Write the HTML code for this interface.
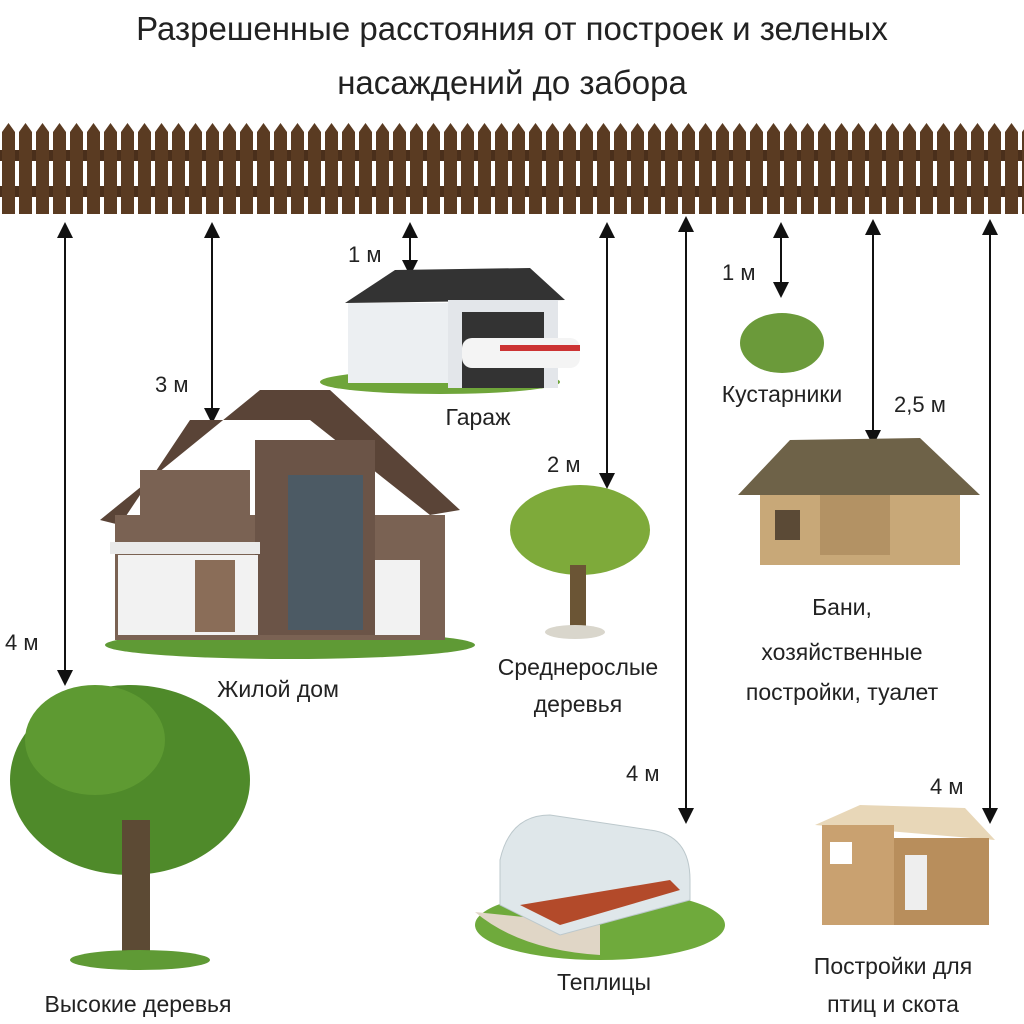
<!DOCTYPE html>
<html><head><meta charset="utf-8"><style>
body{margin:0;background:#fff;}
svg{display:block}
text{font-family:"Liberation Sans","DejaVu Sans",sans-serif;fill:#222;}
</style></head><body>
<svg width="1024" height="1024" viewBox="0 0 1024 1024">
<defs>
<pattern id="pk" x="0" y="118" width="17" height="96" patternUnits="userSpaceOnUse">
<path d="M2 14 L8.5 5 L15 14 L15 96 L2 96 Z" fill="#5a3b22"/>
</pattern>
<marker id="ah" viewBox="0 0 10 10" refX="5" refY="5" markerWidth="8" markerHeight="8" orient="auto-start-reverse"><path d="M0 0 L10 5 L0 10 Z" fill="#111"/></marker>
</defs>
<text x="512" y="40" font-size="33" text-anchor="middle">Разрешенные расстояния от построек и зеленых</text>
<text x="512" y="94" font-size="33" text-anchor="middle">насаждений до забора</text>
<!-- fence -->
<rect x="0" y="150" width="1024" height="11" fill="#4a2f1b"/>
<rect x="0" y="186" width="1024" height="11" fill="#4a2f1b"/>
<rect x="0" y="118" width="1024" height="96" fill="url(#pk)"/>
<!-- arrows -->
<g stroke="#111" stroke-width="2" marker-start="url(#ah)" marker-end="url(#ah)">
<line x1="65" y1="230" x2="65" y2="678"/>
<line x1="212" y1="230" x2="212" y2="416"/>
<line x1="410" y1="230" x2="410" y2="268"/>
<line x1="607" y1="230" x2="607" y2="481"/>
<line x1="686" y1="224" x2="686" y2="816"/>
<line x1="781" y1="230" x2="781" y2="290"/>
<line x1="873" y1="227" x2="873" y2="438"/>
<line x1="990" y1="227" x2="990" y2="816"/>
</g>
<g font-size="22">
<text x="348" y="262">1 м</text>
<text x="155" y="392">3 м</text>
<text x="547" y="472">2 м</text>
<text x="722" y="280">1 м</text>
<text x="894" y="412">2,5 м</text>
<text x="5" y="650">4 м</text>
<text x="626" y="781">4 м</text>
<text x="930" y="794">4 м</text>
</g>
<g font-size="23" text-anchor="middle">
<text x="478" y="425">Гараж</text>
<text x="782" y="402">Кустарники</text>
<text x="278" y="697">Жилой дом</text>
<text x="578" y="675">Среднерослые</text>
<text x="578" y="712">деревья</text>
<text x="842" y="615">Бани,</text>
<text x="842" y="660">хозяйственные</text>
<text x="842" y="700">постройки, туалет</text>
<text x="604" y="990">Теплицы</text>
<text x="893" y="974">Постройки для</text>
<text x="893" y="1012">птиц и скота</text>
<text x="138" y="1012">Высокие деревья</text>
</g>
<!-- garage -->
<ellipse cx="440" cy="382" rx="120" ry="12" fill="#6fa53a"/>
<polygon points="345,303 395,270 530,268 565,300" fill="#333"/>
<rect x="348" y="303" width="100" height="80" fill="#eceff2"/>
<rect x="448" y="300" width="110" height="88" fill="#e3e6ea"/>
<rect x="462" y="312" width="82" height="76" fill="#333"/>
<rect x="462" y="338" width="118" height="30" rx="10" fill="#f4f4f4"/>
<rect x="500" y="345" width="80" height="6" fill="#c33"/>
<!-- shrub -->
<ellipse cx="782" cy="343" rx="42" ry="30" fill="#6b9a3a"/>
<!-- house -->
<ellipse cx="290" cy="645" rx="185" ry="14" fill="#5f9a35"/>
<polygon points="100,520 260,390 330,390 460,510 430,515 310,420 190,420 120,525" fill="#5a4437"/>
<rect x="115" y="515" width="330" height="125" fill="#7a6253"/>
<rect x="140" y="470" width="110" height="50" fill="#7a6253"/>
<rect x="255" y="440" width="120" height="195" fill="#6b5447"/>
<rect x="288" y="475" width="75" height="155" fill="#4c5a64"/>
<rect x="118" y="555" width="140" height="80" fill="#f2f2f2"/>
<rect x="375" y="560" width="45" height="75" fill="#f2f2f2"/>
<rect x="110" y="542" width="150" height="12" fill="#eaeaea"/>
<rect x="195" y="560" width="40" height="72" fill="#8a6d58"/>
<!-- medium tree -->
<ellipse cx="580" cy="530" rx="70" ry="45" fill="#7eaa3a"/>
<rect x="570" y="565" width="16" height="65" fill="#6b5535"/>
<ellipse cx="575" cy="632" rx="30" ry="7" fill="#d9d6cc"/>
<!-- sauna -->
<polygon points="738,495 790,440 920,438 980,495" fill="#6e6248"/>
<rect x="760" y="495" width="200" height="70" fill="#c8a878"/>
<rect x="775" y="510" width="25" height="30" fill="#5b4a36"/>
<rect x="820" y="495" width="70" height="60" fill="#b39264"/>
<!-- tall tree -->
<ellipse cx="130" cy="780" rx="120" ry="95" fill="#4f8a2a"/>
<ellipse cx="95" cy="740" rx="70" ry="55" fill="#5e9a32"/>
<rect x="122" y="820" width="28" height="140" fill="#5c4a34"/>
<ellipse cx="140" cy="960" rx="70" ry="10" fill="#5f9a35"/>
<!-- greenhouse -->
<ellipse cx="600" cy="925" rx="125" ry="35" fill="#6faa3c"/>
<path d="M475 912 Q520 950 600 955 L600 925 Z" fill="#e0d6c6"/>
<path d="M500 905 L500 860 Q510 815 550 815 L650 830 Q690 835 690 880 L690 900 L560 935 Z" fill="#dfe7ea" stroke="#bcc8cc"/>
<path d="M520 905 L670 880 L680 890 L560 925 Z" fill="#b34a2a"/>
<!-- coop -->
<polygon points="815,825 860,805 965,808 995,840" fill="#e8d7b8"/>
<rect x="822" y="825" width="72" height="100" fill="#c9a170"/>
<rect x="894" y="838" width="95" height="87" fill="#b88e5c"/>
<rect x="830" y="842" width="22" height="22" fill="#fff"/>
<rect x="905" y="855" width="22" height="55" fill="#eee"/>
</svg>
</body></html>
